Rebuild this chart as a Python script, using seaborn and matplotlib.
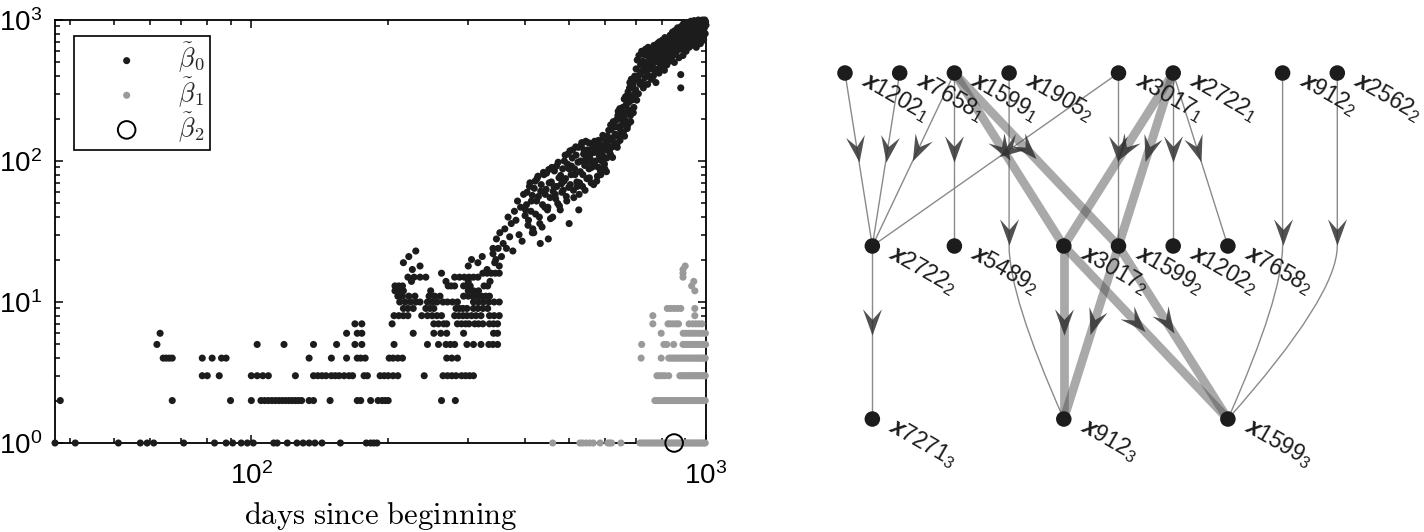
import numpy as np
import matplotlib
matplotlib.use('Agg')
import matplotlib.pyplot as plt
import seaborn as sns
from matplotlib.path import Path
from matplotlib.markers import MarkerStyle
from matplotlib.transforms import Affine2D, offset_copy
from matplotlib.patches import PathPatch
from matplotlib.font_manager import FontProperties
from matplotlib.ticker import NullFormatter

sns.set_theme(style='ticks')
plt.rcParams['font.family'] = ['Liberation Sans', 'DejaVu Sans']
plt.rcParams['mathtext.fontset'] = 'custom'
plt.rcParams['mathtext.rm'] = 'Liberation Sans'
plt.rcParams['mathtext.it'] = 'Liberation Sans:style=italic:weight=bold'

# ---------------- data: left panel (days, Betti numbers) ----------------
# beta0, low region: integer levels -> days where that level is seen
b0_v1 = [37, 41, 51, 57, 59, 61, 71, 83, 88, 91, 95, 98, 101, 112, 114, 120, 126, 130, 134, 138, 143, 157, 179, 183, 186, 189]
b0_v2 = [38, 67, 90, 100, 105, 107, 109, 111, 113, 115, 117, 119, 121, 123, 125, 127, 129, 134, 137, 149, 171,
         174, 183, 190, 194, 197, 200, 262, 281]
b0_v3 = [78, 80, 85, 100, 103, 106, 109, 125, 137, 140, 143, 146, 150, 153, 156, 160, 164, 167, 177, 180, 192, 196,
         200, 205, 210, 240, 264, 270, 276, 282, 290, 296, 302, 308]
b0_v4 = [64, 65, 66, 67, 78, 82, 86, 88, 134, 150, 162, 171, 174, 178, 201, 205, 210, 215, 269, 276, 284]
b0_v5 = [62, 103, 118, 137, 154, 169, 175, 206, 244, 258, 268, 274, 280, 298, 308, 320, 333, 340, 348]
b0_v6 = [63, 162, 171, 175, 227, 252, 261, 269, 293, 341, 348]
b0_v7 = [169, 175, 204, 252, 258, 265, 269, 284, 290, 296, 301, 310, 316, 323, 334, 341, 348]
b0_v8 = [206, 211, 216, 221, 237, 244, 250, 256, 262, 280, 286, 292, 298, 305, 312, 320, 334, 342, 351]
b0_v9 = [216, 221, 227, 242, 247, 252, 282, 287, 292, 298, 308, 315, 323, 331]
b0_v10 = [212, 218, 224, 230, 235, 244, 250, 256, 264, 270, 277, 284, 308, 316, 324, 333, 342, 351]
b0_v11 = [210, 215, 222, 229, 246, 253, 260, 293, 300, 307, 314, 321, 328, 334]
b0_v12 = [207, 212, 216, 248, 300, 308, 316]
b0_v13 = [207, 211, 215, 271, 275, 280, 293, 298, 303, 325, 331]
b0_v14 = [225, 268, 300, 335]
b0_v15 = [221, 228, 235, 242, 280, 287, 294, 301, 308, 315]
b0_v16 = [262, 323, 330, 337, 344, 351]
b0_low_levels = [b0_v1, b0_v2, b0_v3, b0_v4, b0_v5, b0_v6, b0_v7, b0_v8,
                 b0_v9, b0_v10, b0_v11, b0_v12, b0_v13, b0_v14, b0_v15, b0_v16]

# beta0, scattered points just above the integer rows
b0_extra_days = [216, 222, 226, 230, 235, 300, 305, 315, 322, 330, 340, 345, 351, 415, 432, 450, 500, 525, 880, 880]
b0_extra_vals = [19, 21, 17, 23, 18, 18, 20, 19, 21, 17, 24, 20, 18, 31, 26, 28, 36, 45, 330, 410]

# beta0, the rising band
b0_mid_days = list(range(340, 698, 3))
b0_mid_vals = [22, 19, 28, 24, 31, 21, 26,
               33, 24, 40, 29, 36, 23, 44,
               38, 52, 30, 47, 27, 58, 41,
               49, 35, 66, 44, 57, 31, 72,
               52, 78, 40, 61, 34, 83, 47,
               63, 45, 87, 55, 71, 40, 66,
               58, 92, 50, 76, 45, 69, 88,
               72, 110, 56, 95, 65, 118, 80,
               105, 62, 88, 126, 71, 98, 58,
               84, 130, 66, 112, 93, 138, 75,
               120, 88, 104, 70, 133, 96, 115,
               92, 128, 78, 140, 108, 85, 122,
               110, 145, 95, 130, 84, 150, 118,
               140, 112, 168, 126, 190, 135, 155,
               175, 132, 210, 150, 235, 165, 198,
               220, 160, 275, 195, 250, 290, 180,
               260, 330, 210, 380, 290, 350, 240, 400]
b0_mid2_days = list(range(401, 699, 3))
b0_mid2_vals = [45, 60, 38, 70, 52, 33, 64,
                42, 75, 56, 36, 68, 49, 80,
                58, 82, 47, 70, 39, 90, 61,
                85, 54, 66, 98, 48, 79, 60,
                62, 100, 75, 52, 112, 88, 68,
                92, 120, 55, 80, 110, 66, 125,
                70, 100, 135, 80, 120, 62, 105,
                98, 135, 76, 112, 90, 125, 68,
                138, 100, 72, 118, 90, 132, 80,
                100, 152, 120, 88, 140, 105, 128,
                165, 120, 180, 145, 106, 175, 130,
                150, 195, 125, 225, 175, 140, 215,
                180, 240, 205, 150, 285, 220, 170,
                310, 230, 360, 190, 270, 330, 220, 370, 300]
b0_top_days = list(range(700, 1001, 2))
b0_top_vals = [320, 450, 270, 520, 380, 300, 560, 410, 350, 480,
               430, 600, 360, 510, 330, 570, 460, 390, 620, 500,
               420, 560, 350, 640, 480, 400, 590, 450, 520, 380,
               610, 470, 540, 400, 660, 500, 430, 580, 360, 620,
               510, 680, 450, 560, 420, 700, 600, 480, 640, 530,
               460, 720, 580, 510, 660, 440, 750, 600, 540, 690,
               480, 620, 740, 560, 700, 510, 650, 780, 590, 530,
               720, 620, 820, 560, 680, 760, 500, 840, 640, 700,
               590, 800, 680, 880, 620, 740, 540, 850, 700, 660,
               780, 900, 620, 720, 860, 560, 940, 700, 800, 660,
               880, 740, 600, 920, 820, 680, 960, 760, 850, 640,
               720, 900, 800, 980, 660, 860, 760, 940, 700, 880,
               820, 990, 700, 900, 780, 960, 640, 860, 940, 760,
               880, 1000, 740, 920, 820, 980, 680, 860, 950, 790,
               900, 1000, 840, 960, 720, 940, 880, 1000, 800, 970,
               920]

# beta1 (grey): integer levels -> days
b1_v1 = [460, 528, 535, 545, 555, 565, 585, 608, 614, 620, 650, 716, 724, 732, 740, 748, 756, 764, 772, 780, 788,
         796, 804, 812, 820, 828, 836, 844, 852, 860, 868, 876, 884, 892, 900, 908, 916, 924, 932, 940, 948, 956,
         964, 972, 980, 988, 996]
b1_v2 = [772, 780, 788, 796, 804, 812, 820, 828, 836, 844, 852, 860, 868, 876, 884, 892, 900, 908, 916, 924, 932,
         940, 948, 956, 964, 972, 980, 988, 996]
b1_v3 = [780, 790, 800, 812, 828, 876, 884, 892, 900, 908, 916, 924, 932, 940, 948, 956, 964, 972, 980, 988, 996]
b1_v4 = [720, 797, 828, 836, 844, 852, 860, 868, 876, 884, 892, 900, 908, 916, 924, 932, 940, 948, 956, 964, 972,
         980, 988, 996]
b1_v5 = [722, 808, 820, 849, 890, 900, 910, 920, 930, 940, 950, 960, 970, 980, 990, 998]
b1_v6 = [797, 891, 905, 920, 935, 950, 965, 980, 997]
b1_v7 = [764, 825, 835, 848, 860, 870, 918, 935, 950, 965, 980]
b1_v8 = [764, 945]
b1_v9 = [822, 835, 850, 865, 880, 945]
b1_levels = [b1_v1, b1_v2, b1_v3, b1_v4, b1_v5, b1_v6, b1_v7, b1_v8, b1_v9]
b1_extra_days = [945, 930, 940, 890, 890, 890, 900]
b1_extra_vals = [12, 13, 14, 15, 16, 17, 18]

# beta2 (open circle)
b2_days = [851]
b2_vals = [1]

# ---------------- data: right panel (layered graph) ----------------
node_names = ['x1202_1', 'x7658_1', 'x1599_1', 'x1905_2', 'x3017_1', 'x2722_1', 'x912_2', 'x2562_2',
              'x2722_2', 'x5489_2', 'x3017_2', 'x1599_2', 'x1202_2', 'x7658_2',
              'x7271_3', 'x912_3', 'x1599_3']
node_layer = [1, 1, 1, 1, 1, 1, 1, 1, 2, 2, 2, 2, 2, 2, 3, 3, 3]
node_slot = [0, 1, 2, 3, 5, 6, 8, 9, 0.5, 2, 4, 5, 6, 7, 0.5, 4, 7]

thin_edges = [('x1202_1', 'x2722_2'), ('x7658_1', 'x2722_2'), ('x1599_1', 'x2722_2'), ('x3017_1', 'x2722_2'),
              ('x1599_1', 'x5489_2'), ('x3017_1', 'x1599_2'), ('x2722_1', 'x1202_2'), ('x2722_1', 'x7658_2'),
              ('x2722_2', 'x7271_3')]
thick_edges = [('x1599_1', 'x3017_2'), ('x1599_1', 'x1599_2'), ('x2722_1', 'x3017_2'), ('x2722_1', 'x1599_2'),
               ('x3017_2', 'x912_3'), ('x1599_2', 'x912_3'), ('x3017_2', 'x1599_3'), ('x1599_2', 'x1599_3')]
long_edges = [('x1905_2', 'x912_3'), ('x912_2', 'x1599_3'), ('x2562_2', 'x1599_3')]

# ---------------- figure ----------------
W, H = 1424, 532
fig = plt.figure(figsize=(W / 100, H / 100), dpi=100)

ax = fig.add_axes([55 / W, 89 / H, 651 / W, 423 / H])
ax.set_xscale('log')
ax.set_yscale('log')

b0_days, b0_vals = [], []
for lev, days in enumerate(b0_low_levels, start=1):
    b0_days += days
    b0_vals += [lev] * len(days)
b0_days += b0_extra_days + b0_mid_days + b0_mid2_days + b0_top_days
b0_vals += b0_extra_vals + b0_mid_vals + b0_mid2_vals + b0_top_vals

b1_days, b1_vals = [], []
for lev, days in enumerate(b1_levels, start=1):
    b1_days += days
    b1_vals += [lev] * len(days)
b1_days += b1_extra_days
b1_vals += b1_extra_vals

sns.scatterplot(x=b0_days, y=b0_vals, color='#1c1c1c', s=26, edgecolor='none', ax=ax,
                label=r'$\tilde{\beta}_0$', clip_on=False, zorder=3)
sns.scatterplot(x=b1_days, y=b1_vals, color='#9a9a9a', s=26, edgecolor='none', ax=ax,
                label=r'$\tilde{\beta}_1$', clip_on=False, zorder=3)
sns.scatterplot(x=b2_days, y=b2_vals, marker='o', s=160, facecolor='none', edgecolor='black', linewidth=1.4,
                ax=ax, label=r'$\tilde{\beta}_2$', clip_on=False, zorder=4)

ax.set_xlim(37, 1000)
ax.set_ylim(1, 1000)
ax.xaxis.set_minor_formatter(NullFormatter())
ax.yaxis.set_minor_formatter(NullFormatter())
ax.tick_params(which='both', direction='in', top=True, right=True, colors='black', width=1.1)
ax.tick_params(which='major', length=6, labelsize=20)
ax.tick_params(axis='x', which='major', pad=14)
ax.tick_params(axis='y', which='major', pad=9)
ax.tick_params(which='minor', length=3.5)
for sp in ax.spines.values():
    sp.set_linewidth(1.3)
    sp.set_color('black')
ax.set_xlabel(r'$\mathrm{days\ since\ beginning}$', fontsize=22, math_fontfamily='cm', labelpad=7,
              color='black')
ax.set_ylabel('')

leg = ax.legend(loc='upper left', bbox_to_anchor=(0.029, 0.962), borderaxespad=0,
                prop=FontProperties(size=19, math_fontfamily='cm'), frameon=True, fancybox=False,
                edgecolor='black', framealpha=1, handlelength=3.6, handletextpad=0.15,
                borderpad=0.2, labelspacing=0.02)
leg.get_frame().set_linewidth(1.2)

# ---------------- right panel ----------------
ax2 = fig.add_axes([780 / W, 0, 644 / W, 1])

sns.scatterplot(x=node_slot, y=node_layer, color='#1c1c1c', s=125, edgecolor='none', ax=ax2,
                zorder=6, legend=False)
ax2.set_xlim(-1.188, 10.585)
ax2.set_ylim(3.653, 0.578)
ax2.axis('off')


def node_pos(name):
    i = node_names.index(name)
    return node_slot[i], node_layer[i]


arrow_verts = [(1, 0), (-1, 0.72), (-0.2, 0), (-1, -0.72), (1, 0)]
arrow_codes = [Path.MOVETO, Path.LINETO, Path.LINETO, Path.LINETO, Path.CLOSEPOLY]


def draw_arrow(p0, p1, frac):
    d0, d1 = ax2.transData.transform([p0, p1])
    ang = np.degrees(np.arctan2(d1[1] - d0[1], d1[0] - d0[0]))
    mk = MarkerStyle(Path(arrow_verts, arrow_codes), transform=Affine2D().rotate_deg(ang))
    px = p0[0] + frac * (p1[0] - p0[0])
    py = p0[1] + frac * (p1[1] - p0[1])
    ax2.plot([px], [py], linestyle='none', marker=mk, ms=19, color='#333333', alpha=0.85,
             markeredgewidth=0, zorder=4)


for s, t in thin_edges:
    p0, p1 = node_pos(s), node_pos(t)
    ax2.plot([p0[0], p1[0]], [p0[1], p1[1]], color='#8a8a8a', lw=1.0, zorder=2)
    draw_arrow(p0, p1, 0.44)

for s, t in thick_edges:
    p0, p1 = node_pos(s), node_pos(t)
    ax2.plot([p0[0], p1[0]], [p0[1], p1[1]], color='#555555', alpha=0.5, lw=6.3, zorder=3,
             solid_capstyle='butt')
    draw_arrow(p0, p1, 0.44)

for s, t in long_edges:
    p0, p1 = node_pos(s), node_pos(t)
    mid = (p0[0], 2)
    path = Path([p0, mid, (p0[0], 2.29), p1], [Path.MOVETO, Path.LINETO, Path.CURVE3, Path.CURVE3])
    ax2.add_patch(PathPatch(path, fill=False, edgecolor='#8a8a8a', lw=1.0, zorder=2))
    draw_arrow(p0, mid, 0.92)

lab_tr = offset_copy(ax2.transData, fig=fig, x=15, y=-11, units='dots')
for name, sl, ly in zip(node_names, node_slot, node_layer):
    base, sub = name.split('_')
    ax2.text(sl, ly, r'$\mathit{' + base + r'}_{\mathit{' + sub + '}}$', transform=lab_tr,
             fontsize=16.5, rotation=-30, rotation_mode='anchor', ha='left', va='baseline',
             color='#1c1c1c', zorder=7)

fig.savefig('out.png', dpi=100, facecolor='white')
